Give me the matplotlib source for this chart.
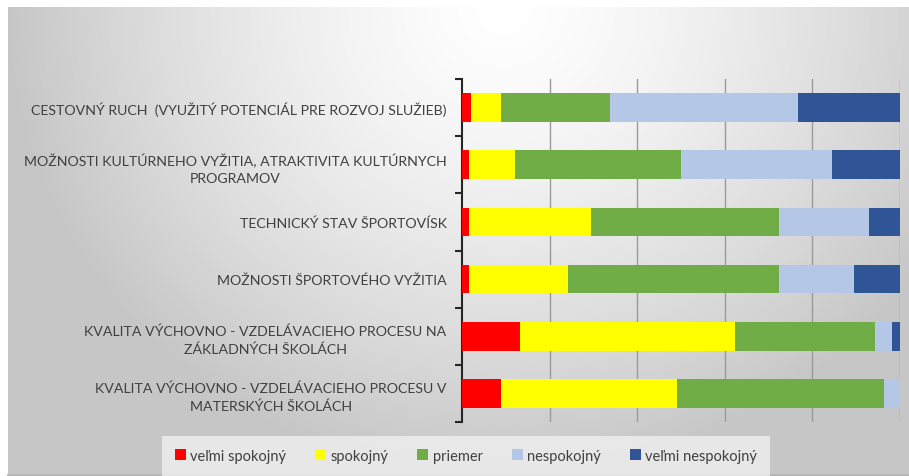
import matplotlib.pyplot as plt
import numpy as np

categories = [
    "CESTOVNÝ RUCH  (VYUŽITÝ POTENCIÁL PRE ROZVOJ SLUŽIEB)",
    "MOŽNOSTI KULTÚRNEHO VYŽITIA, ATRAKTIVITA KULTÚRNYCH\nPROGRAMOV",
    "TECHNICKÝ STAV ŠPORTOVÍSK",
    "MOŽNOSTI ŠPORTOVÉHO VYŽITIA",
    "KVALITA VÝCHOVNO - VZDELÁVACIEHO PROCESU NA\nZÁKLADNÝCH ŠKOLÁCH",
    "KVALITA VÝCHOVNO - VZDELÁVACIEHO PROCESU V\nMATERSKÝCH ŠKOLÁCH",
]
series_names = ["veľmi spokojný", "spokojný", "priemer", "nespokojný", "veľmi nespokojný"]
velmi_spokojny = [2.0, 1.7, 1.7, 1.7, 13.2, 9.0]
spokojny = [6.9, 10.5, 27.7, 22.5, 49.2, 40.0]
priemer = [24.9, 37.8, 42.9, 48.1, 31.8, 47.3]
nespokojny = [42.9, 34.4, 20.7, 17.3, 3.9, 3.7]
velmi_nespokojny = [23.3, 15.6, 7.0, 10.4, 1.9, 0.0]
colors = ["#ff0000", "#ffff00", "#70ad47", "#b4c7e7", "#2f5597"]

plt.rcParams["font.family"] = ["Lato", "DejaVu Sans"]

W, H = 909, 477
fig = plt.figure(figsize=(W / 100, H / 100), dpi=100)

# gradient background of the chart box
bg = fig.add_axes([8 / W, 0, 1 - 8 / W, 1 - 8 / H])
yy, xx = np.mgrid[0:1:200j, 0:1:400j]
d = np.sqrt(((xx - 0.55) / 0.55) ** 2 + (yy / 1.0) ** 2)
d = np.clip(d, 0, 1)
g = 1 - 0.22 * d ** 1.4
img = np.dstack([g, g, g])
bg.imshow(img, aspect="auto", extent=[0, 1, 1, 0])
bg.set_axis_off()
bg.plot([0, 1], [0.002, 0.002], color="#b5b5b5", lw=2, transform=bg.transAxes, clip_on=False)

ax = fig.add_axes([462 / W, 1 - 423 / H, (900 - 462) / W, (423 - 80) / H])
ax.patch.set_alpha(0)

data = [velmi_spokojny, spokojny, priemer, nespokojny, velmi_nespokojny]
y = np.arange(len(categories))
left = np.zeros(len(categories))
for name, vals, c in zip(series_names, data, colors):
    ax.barh(y, vals, left=left, height=0.5, color=c, label=name, zorder=3)
    left += np.array(vals)

ax.set_xlim(0, 100)
ax.set_ylim(len(categories) - 0.5, -0.5)
ax.set_xticks([20, 40, 60, 80, 100])
ax.set_xticklabels([])
ax.tick_params(axis="x", length=0)
ax.grid(axis="x", color="#9a9a9a", lw=1, zorder=0)

ax.set_yticks(y)
ax.set_yticklabels(categories, fontsize=10.2, color="#404040")
for lab in ax.get_yticklabels():
    lab.set_multialignment("center")
    lab.set_linespacing(1.5)
ax.tick_params(axis="y", which="major", length=0, pad=11)
ax.set_yticks(np.arange(-0.5, len(categories)), minor=True)
ax.tick_params(axis="y", which="minor", length=5, width=1.5, color="#262626")

for s in ["top", "right", "bottom"]:
    ax.spines[s].set_visible(False)
ax.spines["left"].set_color("#262626")
ax.spines["left"].set_linewidth(1.5)

leg = fig.legend(
    loc="lower center",
    bbox_to_anchor=(466 / W, 0),
    ncol=5,
    frameon=True,
    fontsize=10.5,
    handlelength=0.75,
    handleheight=0.75,
    handletextpad=0.3,
    columnspacing=2.0,
    borderpad=0.9,
    borderaxespad=0,
    fancybox=False,
)
leg.get_frame().set_facecolor("#f0f0f0")
leg.get_frame().set_edgecolor("none")
for t in leg.get_texts():
    t.set_color("#404040")

fig.savefig("out.png", dpi=100)
